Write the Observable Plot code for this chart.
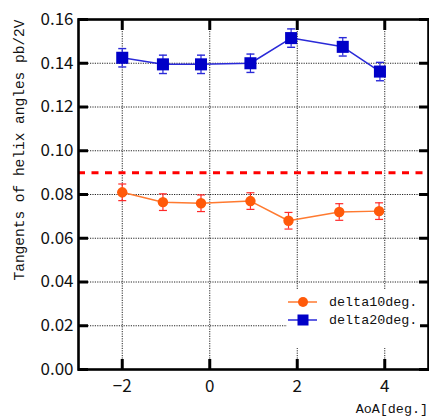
<!DOCTYPE html>
<html>
<head>
<meta charset="utf-8">
<script src="https://cdn.jsdelivr.net/npm/d3@7"></script>
<script src="https://cdn.jsdelivr.net/npm/@observablehq/plot@0.6"></script>
<style>
  html, body { margin: 0; padding: 0; background: #fff; }
</style>
</head>
<body>
<div id="chart"></div>
<script>
// ---- data ----
const aoa10 = [-2, -1.07, -0.2, 0.93, 1.8, 2.96, 3.87];
const tan10 = [0.081, 0.0765, 0.076, 0.077, 0.068, 0.072, 0.0724];
const err10 = [0.0038, 0.0038, 0.0038, 0.0038, 0.0038, 0.0038, 0.0038];
const aoa20 = [-2, -1.07, -0.2, 0.93, 1.86, 3.04, 3.89];
const tan20 = [0.1425, 0.1395, 0.1395, 0.140, 0.1515, 0.1475, 0.1362];
const err20 = [0.0042, 0.0042, 0.0042, 0.0042, 0.0042, 0.0042, 0.0042];
const threshold = [0.09];
const xTicks = [-2, 0, 2, 4];
const yTicks = [0, 0.02, 0.04, 0.06, 0.08, 0.10, 0.12, 0.14, 0.16];
const seriesNames = ["delta10deg.", "delta20deg."];
const yLabel = "Tangents of helix angles pb/2V";
const xLabel = "AoA[deg.]";

const s10 = aoa10.map((x, i) => ({x, y: tan10[i], e: err10[i]}));
const s20 = aoa20.map((x, i) => ({x, y: tan20[i], e: err20[i]}));

const W = 429, H = 416, mL = 78, mR = 1, mT = 19, mB = 47;
const orange = "#ff5a0a", orangeLine = "#ff7a30", orangeErr = "#ff2a2a";
const blue = "#0000c8", blueLine = "#2a2ad8";
const tickFont = "'Noto Sans CJK JP', 'Noto Sans', sans-serif";
const monoFont = "'Liberation Mono', 'DejaVu Sans Mono', monospace";

const cap = {draw(ctx) { ctx.moveTo(-4, 0); ctx.lineTo(4, 0); }};

const plot = Plot.plot({
  width: W, height: H,
  marginLeft: mL, marginRight: mR, marginTop: mT, marginBottom: mB,
  style: {background: "#fff", overflow: "visible"},
  x: {domain: [-3, 5]},
  y: {domain: [0, 0.16]},
  marks: [
    Plot.gridX(xTicks, {stroke: "#000", strokeOpacity: 0.85, strokeDasharray: "1.2,1.2", strokeWidth: 1}),
    Plot.gridY(yTicks.slice(1, -1), {stroke: "#000", strokeOpacity: 0.85, strokeDasharray: "1.2,1.2", strokeWidth: 1}),
    Plot.ruleY(threshold, {stroke: "#ff0000", strokeWidth: 3, strokeDasharray: "7,6.5"}),
    // series 10
    Plot.line(s10, {x: "x", y: "y", stroke: orangeLine, strokeWidth: 1.5}),
    Plot.ruleX(s10, {x: "x", y1: d => d.y - d.e, y2: d => d.y + d.e, stroke: orangeErr, strokeWidth: 1.2}),
    Plot.dot(s10, {x: "x", y: d => d.y - d.e, symbol: cap, stroke: orangeErr, strokeWidth: 1.2}),
    Plot.dot(s10, {x: "x", y: d => d.y + d.e, symbol: cap, stroke: orangeErr, strokeWidth: 1.2}),
    Plot.dot(s10, {x: "x", y: "y", r: 5.2, fill: orange, stroke: "none"}),
    // series 20
    Plot.line(s20, {x: "x", y: "y", stroke: blueLine, strokeWidth: 1.5}),
    Plot.ruleX(s20, {x: "x", y1: d => d.y - d.e, y2: d => d.y + d.e, stroke: blueLine, strokeWidth: 1.2}),
    Plot.dot(s20, {x: "x", y: d => d.y - d.e, symbol: cap, stroke: blueLine, strokeWidth: 1.4}),
    Plot.dot(s20, {x: "x", y: d => d.y + d.e, symbol: cap, stroke: blueLine, strokeWidth: 1.4}),
    Plot.dot(s20, {x: "x", y: "y", r: 6.8, symbol: "square", fill: blue, stroke: "none"}),
    // inward ticks
    Plot.axisY(yTicks, {anchor: "left", tickSize: -10, strokeWidth: 3, tickFormat: () => "", label: null}),
    Plot.axisY(yTicks, {anchor: "right", tickSize: -10, strokeWidth: 3, tickFormat: () => "", label: null}),
    Plot.axisX(xTicks, {anchor: "bottom", tickSize: -10, strokeWidth: 3, tickFormat: () => "", label: null}),
    Plot.axisX(xTicks, {anchor: "top", tickSize: -10, strokeWidth: 3, tickFormat: () => "", label: null}),
    // tick labels
    Plot.axisY(yTicks, {anchor: "left", tickSize: 0, tickPadding: 5, tickFormat: d3.format(".2f"), label: null, fontSize: 17, fontFamily: tickFont, fill: "#111"}),
    Plot.axisX(xTicks, {anchor: "bottom", tickSize: 0, tickPadding: 10, tickFormat: d3.format("d"), label: null, fontSize: 17, fontFamily: tickFont, fill: "#111"}),
    Plot.frame({stroke: "#000", strokeWidth: 2.6})
  ]
});

document.getElementById("chart").appendChild(plot);

// ---- labels and legend ----
const svg = d3.select(plot);
const frameRight = W - mR, frameBottom = H - mB;

svg.append("text")
  .attr("transform", `translate(${mL - 58},${mT + 131}) rotate(-90)`)
  .attr("text-anchor", "middle")
  .attr("dominant-baseline", "central")
  .attr("font-family", monoFont)
  .attr("font-size", 14.5)
  .attr("fill", "#111")
  .text(yLabel);

svg.append("text")
  .attr("x", frameRight)
  .attr("y", frameBottom + 44)
  .attr("text-anchor", "end")
  .attr("font-family", monoFont)
  .attr("font-size", 13.4)
  .attr("fill", "#111")
  .text(xLabel);

const lg = svg.append("g");
const lx = frameRight - 141, ly = frameBottom - 79;
lg.append("rect").attr("x", lx).attr("y", ly).attr("width", 133).attr("height", 58).attr("fill", "#fff");
const items = [
  {name: seriesNames[0], line: orangeLine, fill: orange, sym: "circle"},
  {name: seriesNames[1], line: blueLine, fill: blue, sym: "square"}
];
items.forEach((it, i) => {
  const y = ly + 12 + i * 18;
  lg.append("line").attr("x1", lx + 1).attr("x2", lx + 30).attr("y1", y).attr("y2", y)
    .attr("stroke", it.line).attr("stroke-width", 1.5);
  if (it.sym === "circle") {
    lg.append("circle").attr("cx", lx + 16).attr("cy", y).attr("r", 5).attr("fill", it.fill);
  } else {
    lg.append("rect").attr("x", lx + 10.5).attr("y", y - 5.5).attr("width", 11).attr("height", 11).attr("fill", it.fill);
  }
  lg.append("text").attr("x", lx + 42).attr("y", y).attr("dominant-baseline", "central")
    .attr("text-anchor", "start")
    .attr("font-family", monoFont).attr("font-size", 13.4).attr("fill", "#111").text(it.name);
});
</script>
</body>
</html>
